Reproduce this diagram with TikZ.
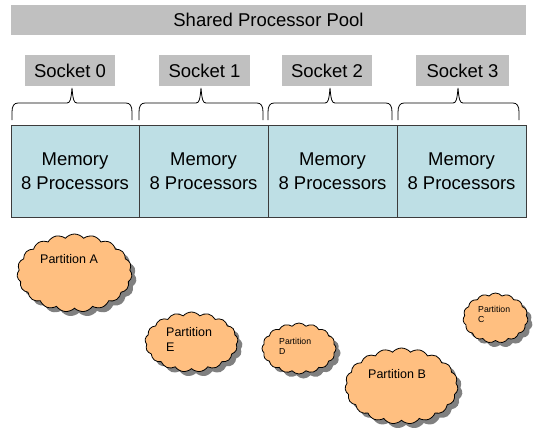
\documentclass[tikz,border=0pt]{standalone}
\usepackage{fontspec}
\setmainfont{Liberation Sans}
\usetikzlibrary{shapes.symbols,shadows}

\definecolor{poolgray}{RGB}{192,192,192}
\definecolor{memblue}{RGB}{190,223,229}
\definecolor{cloudorange}{RGB}{255,191,128}
\definecolor{shadowgray}{RGB}{128,128,128}
\definecolor{edgegray}{RGB}{60,60,60}

% curly brace opening upwards: left end, tip, right end
\newcommand\socketbrace[3]{%
  \draw[bracepath] (#1,120) -- (#1,112)
    .. controls (#1,106) and ({#1+2},103) .. ({#1+6},103)
    -- ({#2-5},103) .. controls ({#2-2},103) and ({#2-1},100) .. (#2,88)
    .. controls ({#2+1},100) and ({#2+2},103) .. ({#2+5},103)
    -- ({#3-6},103) .. controls ({#3-2},103) and (#3,106) .. (#3,112)
    -- (#3,120);}

\begin{document}
\begin{tikzpicture}[x=1pt,y=-1pt,
  graybox/.style={fill=poolgray, draw=none, inner sep=0, minimum height=31,
    font=\fontsize{18.5}{22}\selectfont},
  membox/.style={fill=memblue, draw=edgegray, line width=1pt, minimum height=92,
    inner sep=0, align=center, font=\fontsize{18.5}{24}\selectfont},
  partcloud/.style={cloud, cloud puffs=19, cloud puff arc=100, cloud ignores aspect,
    fill=cloudorange, draw=black, line width=0.8pt, inner sep=0,
    drop shadow={shadow xshift=4.5pt, shadow yshift=-4.5pt, fill=shadowgray, opacity=1}},
  bigtag/.style={anchor=west, inner sep=0, align=left,
    font=\fontsize{12.5}{15}\selectfont},
  smalltag/.style={anchor=west, inner sep=0, align=left,
    font=\fontsize{8.7}{10}\selectfont},
  bracepath/.style={draw=black, line width=0.8pt}]

\useasboundingbox (0,0) rectangle (534,429);

% pool banner
\node[graybox, minimum width=515, minimum height=30] (pool) at (268.5,20) {Shared Processor Pool};

% sockets
\node[graybox, minimum width=90] (s0) at (70,70.5)    {Socket 0};
\node[graybox, minimum width=91] (s1) at (204.5,70.5) {Socket 1};
\node[graybox, minimum width=90] (s2) at (327,70.5)   {Socket 2};
\node[graybox, minimum width=93] (s3) at (462.5,70.5) {Socket 3};

% memory blocks
\node[membox, minimum width=128] (m0) at (75,171)    {Memory\\8 Processors};
\node[membox, minimum width=129] (m1) at (203.5,171) {Memory\\8 Processors};
\node[membox, minimum width=129] (m2) at (332.5,171) {Memory\\8 Processors};
\node[membox, minimum width=129] (m3) at (461.5,171) {Memory\\8 Processors};

% braces grouping each socket's memory
\socketbrace{12}{72}{132}
\socketbrace{139}{201}{263}
\socketbrace{268}{330}{392}
\socketbrace{398}{458}{519}

% partitions
\node[partcloud, minimum width=115, minimum height=78] (pa) at (74.5,273) {};
\node[partcloud, minimum width=93, minimum height=60, cloud puffs=17] (pe) at (191.5,342) {};
\node[partcloud, minimum width=74, minimum height=51, cloud puffs=16] (pd) at (299,348.5) {};
\node[partcloud, minimum width=113, minimum height=76] (pb) at (401.5,386) {};
\node[partcloud, minimum width=65, minimum height=50, cloud puffs=15] (pc) at (495.5,318) {};

\node[bigtag] (ta) at (40,259) {Partition A};
\node[bigtag] (te) at (166,339.5) {Partition\\E};
\node[smalltag] (td) at (279,346) {Partition\\D};
\node[bigtag] (tb) at (368,374) {Partition B};
\node[smalltag] (tc) at (478,314.5) {Partition\\C};
\end{tikzpicture}
\end{document}
